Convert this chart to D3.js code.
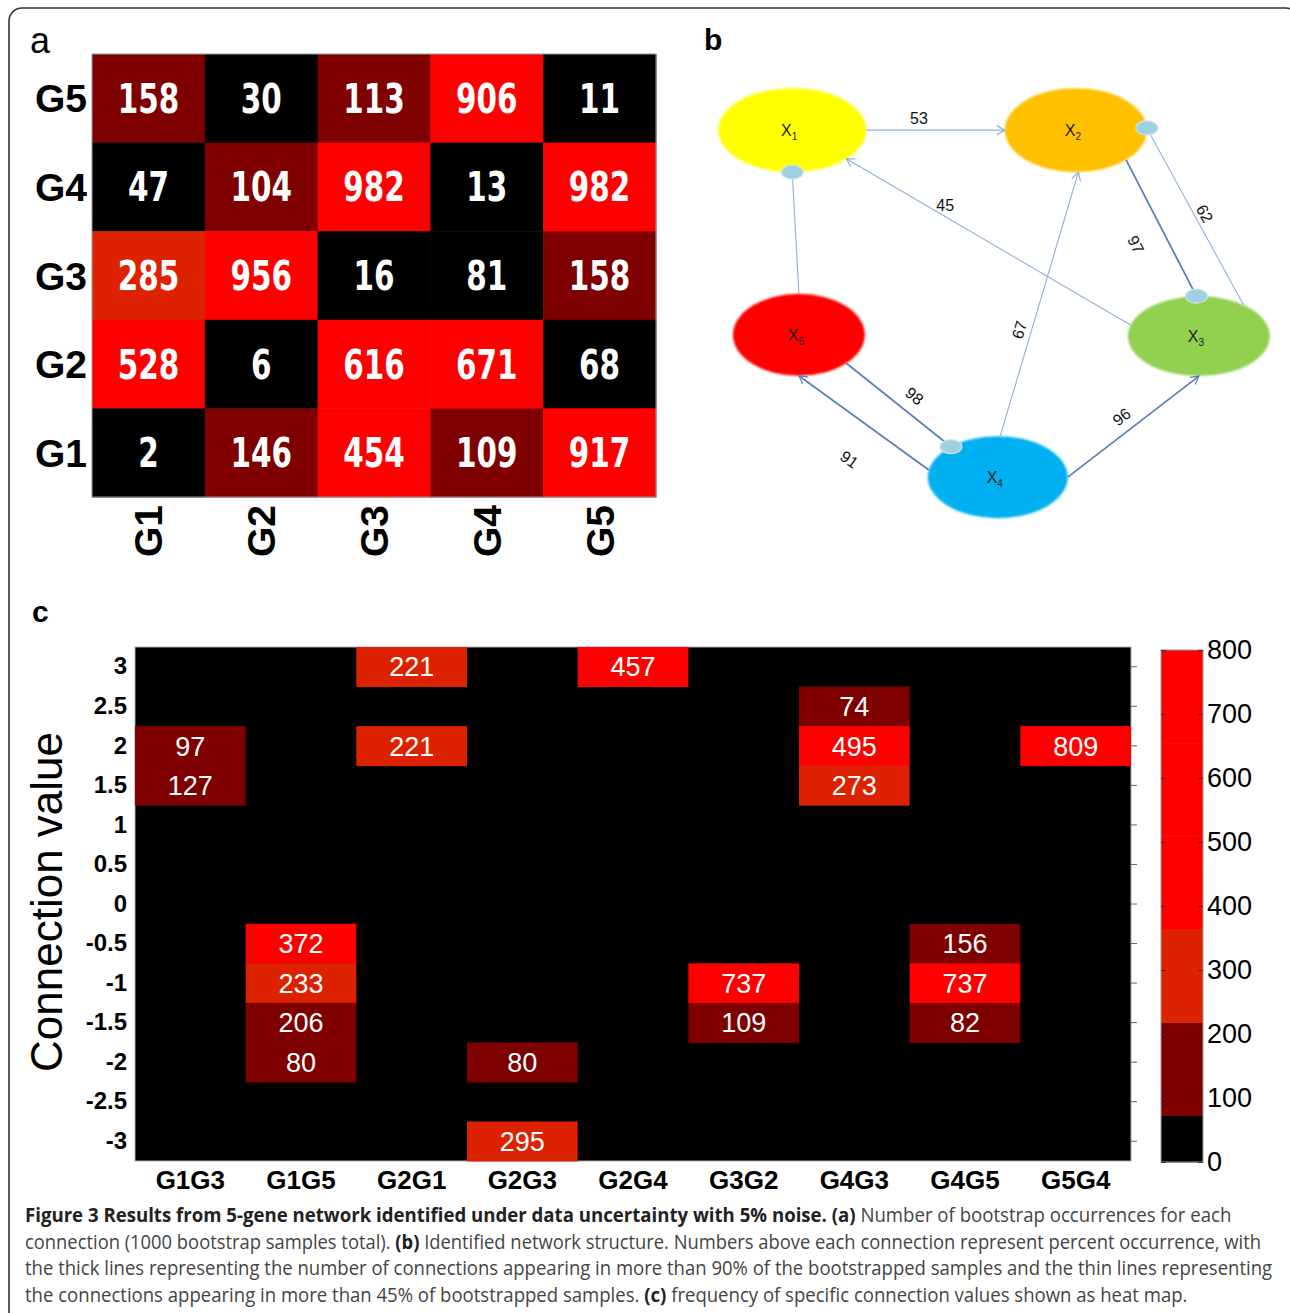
<!DOCTYPE html>
<html>
<head>
<meta charset="utf-8">
<script src="https://cdn.jsdelivr.net/npm/d3@7"></script>
<style>
  body { margin: 0; background: #fff; }
  text { font-family: "Liberation Sans", Arial, sans-serif; }
</style>
</head>
<body>
<svg id="fig" width="1290" height="1313"></svg>
<script>
// ---------- data ----------
// panel a: bootstrap occurrences, rows top->bottom, columns left->right
const genes = ["G1", "G2", "G3", "G4", "G5"];
const rowGenes = ["G5", "G4", "G3", "G2", "G1"];
const countsA = [
  [158, 30, 113, 906, 11],
  [47, 104, 982, 13, 982],
  [285, 956, 16, 81, 158],
  [528, 6, 616, 671, 68],
  [2, 146, 454, 109, 917]
];

// panel b: network
const nodeIds = ["X1", "X2", "X3", "X4", "X5"];
const nodeColors = ["#ffff00", "#ffc000", "#92d050", "#00b0f0", "#ff0000"];
// [from, to, percent, kind]
const edges = [
  ["X1", "X2", 53, "arrow"],
  ["X5", "X1", null, "inhibit"],
  ["X3", "X1", 45, "arrow"],
  ["X2", "X3", 97, "inhibit"],
  ["X3", "X2", 62, "inhibit"],
  ["X4", "X2", 67, "arrow"],
  ["X5", "X4", 98, "inhibit"],
  ["X4", "X5", 91, "arrow"],
  ["X4", "X3", 96, "arrow"]
];

// panel c: frequency of connection values
const pairs = ["G1G3", "G1G5", "G2G1", "G2G3", "G2G4", "G3G2", "G4G3", "G4G5", "G5G4"];
const connValues = [3, 2.5, 2, 1.5, 1, 0.5, 0, -0.5, -1, -1.5, -2, -2.5, -3];
const freqPair = ["G1G3", "G1G3", "G1G5", "G1G5", "G1G5", "G1G5", "G2G1", "G2G1", "G2G3", "G2G3",
                  "G2G4", "G3G2", "G3G2", "G4G3", "G4G3", "G4G3", "G4G5", "G4G5", "G4G5", "G5G4"];
const freqValue = [2, 1.5, -0.5, -1, -1.5, -2, 3, 2, -2, -3,
                   3, -1, -1.5, 2.5, 2, 1.5, -0.5, -1, -1.5, 2];
const freqCount = [97, 127, 372, 233, 206, 80, 221, 221, 80, 295,
                   457, 737, 109, 74, 495, 273, 156, 737, 82, 809];
const cbarTicks = [0, 100, 200, 300, 400, 500, 600, 700, 800];

// 11-step colormap (black, dark red, orange-red, red)
const cmap = ["#000000", "#7f0000", "#7f0000", "#dc2200", "#dc2200",
              "#ff0000", "#ff0000", "#ff0000", "#ff0000", "#ff0000", "#ff0000"];

const svg = d3.select("#fig");

// outer frame
svg.append("rect")
  .attr("x", 9).attr("y", 8).attr("width", 1290).attr("height", 1330)
  .attr("rx", 13).attr("fill", "none").attr("stroke", "#333").attr("stroke-width", 1.6);

// ---------- panel a ----------
const xa = d3.scaleBand().domain(genes).range([92, 656]);
const ya = d3.scaleBand().domain(rowGenes).range([54, 497]);
const colorA = d3.scaleQuantize().domain([0, d3.max(countsA.flat())]).range(cmap);

const cellsA = countsA.flatMap((row, i) => row.map((v, j) => ({ r: rowGenes[i], c: genes[j], v })));
const ga = svg.append("g");
ga.selectAll("rect").data(cellsA).join("rect")
  .attr("x", d => xa(d.c)).attr("y", d => ya(d.r))
  .attr("width", xa.bandwidth() + 0.5).attr("height", ya.bandwidth() + 0.5)
  .attr("fill", d => colorA(d.v));
ga.append("rect").attr("x", 92).attr("y", 54).attr("width", 564).attr("height", 443)
  .attr("fill", "none").attr("stroke", "#999").attr("stroke-width", 1);
ga.selectAll("text.val").data(cellsA).join("text").attr("class", "val")
  .attr("x", d => xa(d.c) + xa.bandwidth() / 2)
  .attr("y", d => ya(d.r) + ya.bandwidth() / 2)
  .attr("dy", "0.36em").attr("text-anchor", "middle")
  .style("font-family", "'DejaVu Sans Condensed', 'DejaVu Sans', sans-serif")
  .attr("font-weight", "bold").attr("font-size", 40).attr("fill", "#fff")
  .attr("textLength", d => String(d.v).length * 20.5).attr("lengthAdjust", "spacingAndGlyphs")
  .text(d => d.v);
ga.selectAll("text.row").data(rowGenes).join("text").attr("class", "row")
  .attr("x", 87).attr("y", d => ya(d) + ya.bandwidth() / 2).attr("dy", "0.36em")
  .attr("text-anchor", "end").attr("font-weight", "bold").attr("font-size", 39)
  .attr("fill", "#000").text(d => d);
ga.selectAll("text.col").data(genes).join("text").attr("class", "col")
  .attr("transform", d => `translate(${xa(d) + xa.bandwidth() / 2},505) rotate(-90)`)
  .attr("dy", "0.36em").attr("text-anchor", "end").attr("font-weight", "bold")
  .attr("font-size", 39).attr("fill", "#000").text(d => d);
svg.append("text").attr("x", 30).attr("y", 53).attr("font-size", 36).text("a");

// ---------- panel b ----------
svg.append("text").attr("x", 704).attr("y", 50).attr("font-size", 30)
  .attr("font-weight", "bold").text("b");

const bx = d3.scaleLinear().domain([0, 100]).range([718, 1272]);
const by = d3.scaleLinear().domain([0, 100]).range([88, 518]);
// layout units: [u, v, rx, ry]
const nodeLayout = {
  X1: [13.4, 9.8, 74, 42], X2: [64.6, 9.8, 71, 42], X3: [86.8, 57.7, 71, 40],
  X4: [50.5, 90.5, 70, 41], X5: [14.6, 57.4, 66, 41]
};
// attachment angles on the ellipses (degrees) and label placement
const edgeLayout = [
  { a0: 0, a1: 180, t: 0.38, off: 12, rot: false },
  { a0: -90, a1: 90 },
  { a0: 196, a1: 43, t: 0.67, off: -10, rot: false },
  { a0: 45, a1: -92, t: 0.52, off: -30, rot: true },
  { a0: -51, a1: -3, t: 0.49, off: -10, rot: true },
  { a0: -88, a1: 88, t: 0.39, off: 12, rot: true },
  { a0: 44, a1: -132, t: 0.55, off: 17, rot: true },
  { a0: 190, a1: 90, t: 0.44, off: 38, rot: true },
  { a0: 0, a1: 90, t: 0.48, off: 15, rot: true }
];
function onEllipse(id, deg) {
  const [u, v, rx, ry] = nodeLayout[id];
  const a = deg * Math.PI / 180;
  return [bx(u) + rx * Math.cos(a), by(v) + ry * Math.sin(a)];
}

const defs = svg.append("defs");
["thin", "thick"].forEach(k => {
  defs.append("marker").attr("id", "arr-" + k)
    .attr("viewBox", "-10 -6 12 12").attr("refX", 0).attr("refY", 0)
    .attr("markerWidth", 12).attr("markerHeight", 12).attr("markerUnits", "userSpaceOnUse")
    .attr("orient", "auto")
    .append("path").attr("d", "M-8,-4.5L0,0L-8,4.5")
    .attr("fill", "none").attr("stroke", k === "thin" ? "#8fb0dd" : "#5a80bf")
    .attr("stroke-width", 1.2);
});
defs.append("filter").attr("id", "soft").attr("x", "-10%").attr("y", "-10%")
  .attr("width", "120%").attr("height", "120%")
  .append("feGaussianBlur").attr("stdDeviation", 0.9);

const gb = svg.append("g");
const edgeData = edges.map((e, i) => {
  const L = edgeLayout[i];
  const p0 = onEllipse(e[0], L.a0), p1 = onEllipse(e[1], L.a1);
  return { from: e[0], to: e[1], pct: e[2], kind: e[3], thick: e[2] > 90, p0, p1, L };
});

// nodes
gb.selectAll("ellipse.node").data(nodeIds).join("ellipse").attr("class", "node")
  .attr("cx", d => bx(nodeLayout[d][0])).attr("cy", d => by(nodeLayout[d][1]))
  .attr("rx", d => nodeLayout[d][2]).attr("ry", d => nodeLayout[d][3])
  .attr("fill", (d, i) => nodeColors[i]).attr("filter", "url(#soft)");

// edges
gb.selectAll("line.edge").data(edgeData).join("line").attr("class", "edge")
  .attr("x1", d => d.p0[0]).attr("y1", d => d.p0[1])
  .attr("x2", d => d.p1[0]).attr("y2", d => d.p1[1])
  .attr("stroke", d => d.thick ? "#5a80bf" : "#8fb0dd")
  .attr("stroke-width", d => d.thick ? 1.8 : 1.1)
  .attr("marker-end", d => d.kind === "arrow" ? `url(#arr-${d.thick ? "thick" : "thin"})` : null);

// inhibition dots
gb.selectAll("ellipse.dot").data(edgeData.filter(d => d.kind === "inhibit")).join("ellipse")
  .attr("class", "dot")
  .attr("cx", d => d.p1[0]).attr("cy", d => d.p1[1])
  .attr("rx", 11).attr("ry", 7)
  .attr("fill", "#9fd0e2").attr("stroke", "#c9e6f0").attr("stroke-width", 1.2);

// node labels
const nl = gb.selectAll("text.nl").data(nodeIds).join("text").attr("class", "nl")
  .attr("x", d => bx(nodeLayout[d][0]) - 3).attr("y", d => by(nodeLayout[d][1]))
  .attr("dy", "0.36em").attr("text-anchor", "middle").attr("font-size", 16).attr("fill", "#222");
nl.append("tspan").text("X");
nl.append("tspan").attr("font-size", 10).attr("dy", 4).text(d => d.slice(1));

// edge labels
gb.selectAll("text.el").data(edgeData.filter(d => d.pct != null)).join("text").attr("class", "el")
  .attr("transform", d => {
    const dx = d.p1[0] - d.p0[0], dy = d.p1[1] - d.p0[1];
    const len = Math.hypot(dx, dy);
    const nx = dy / len, ny = -dx / len;
    const x = d.p0[0] + dx * d.L.t + nx * d.L.off;
    const y = d.p0[1] + dy * d.L.t + ny * d.L.off;
    let ang = Math.atan2(dy, dx) * 180 / Math.PI;
    if (ang > 90) ang -= 180;
    if (ang <= -90) ang += 180;
    return `translate(${x},${y}) rotate(${d.L.rot ? ang : 0})`;
  })
  .attr("dy", "0.36em").attr("text-anchor", "middle").attr("font-size", 16).attr("fill", "#111")
  .text(d => d.pct);

// ---------- panel c ----------
svg.append("text").attr("x", 32).attr("y", 622).attr("font-size", 30)
  .attr("font-weight", "bold").text("c");

const xc = d3.scaleBand().domain(pairs).range([135, 1131]);
const yc = d3.scaleBand().domain(connValues).range([647, 1161]);
const colorC = d3.scaleQuantize().domain([0, 800]).range(cmap);

const gc = svg.append("g");
gc.append("rect").attr("x", 135).attr("y", 647).attr("width", 996).attr("height", 514)
  .attr("fill", "#000").attr("stroke", "#aaa").attr("stroke-width", 1);
const cellsC = freqCount.map((v, i) => ({ p: freqPair[i], c: freqValue[i], v }));
gc.selectAll("rect.cell").data(cellsC).join("rect").attr("class", "cell")
  .attr("x", d => xc(d.p)).attr("y", d => yc(d.c))
  .attr("width", xc.bandwidth()).attr("height", yc.bandwidth() + 0.5)
  .attr("fill", d => colorC(d.v));
gc.selectAll("text.cv").data(cellsC).join("text").attr("class", "cv")
  .attr("x", d => xc(d.p) + xc.bandwidth() / 2)
  .attr("y", d => yc(d.c) + yc.bandwidth() / 2)
  .attr("dy", "0.36em").attr("text-anchor", "middle")
  .attr("font-size", 27).attr("fill", "#fff").text(d => d.v);

// y axis
const yAxis = gc.append("g").attr("transform", "translate(135,0)")
  .call(d3.axisLeft(yc).tickSize(0).tickPadding(8));
yAxis.select(".domain").remove();
yAxis.selectAll("text").attr("font-size", 24).attr("font-weight", "bold")
  .attr("fill", "#000").style("font-family", "'Liberation Sans', Arial, sans-serif");
// mirrored ticks on the right
const yAxisR = gc.append("g").attr("transform", "translate(1131,0)")
  .call(d3.axisLeft(yc).tickSize(6).tickFormat(""));
yAxisR.select(".domain").remove();
yAxisR.selectAll("line").attr("stroke", "#666").attr("transform", "translate(6,0)");

// x axis
const xAxis = gc.append("g").attr("transform", "translate(0,1161)")
  .call(d3.axisBottom(xc).tickSize(0).tickPadding(10));
xAxis.select(".domain").remove();
xAxis.selectAll("text").attr("font-size", 26).attr("font-weight", "bold")
  .attr("fill", "#000").style("font-family", "'Liberation Sans', Arial, sans-serif");

svg.append("text")
  .attr("transform", "translate(62,902) rotate(-90)")
  .attr("text-anchor", "middle").attr("font-size", 44).attr("fill", "#000")
  .text("Connection value");

// colorbar
const cb = d3.scaleLinear().domain([0, 800]).range([1162, 650]);
const steps = d3.range(cmap.length).map(i => [i * 800 / cmap.length, (i + 1) * 800 / cmap.length]);
const gcb = svg.append("g");
gcb.selectAll("rect").data(steps).join("rect")
  .attr("x", 1161).attr("width", 42)
  .attr("y", d => cb(d[1])).attr("height", d => cb(d[0]) - cb(d[1]) + 0.5)
  .attr("fill", (d, i) => cmap[i]);
gcb.append("rect").attr("x", 1161).attr("y", 650).attr("width", 42).attr("height", 512)
  .attr("fill", "none").attr("stroke", "#999").attr("stroke-width", 1);
const cAxis = gcb.append("g").attr("transform", "translate(1203,0)")
  .call(d3.axisRight(cb).tickValues(cbarTicks).tickSize(-5).tickPadding(4).tickFormat(d3.format("d")));
cAxis.select(".domain").remove();
cAxis.selectAll("line").attr("stroke", "#333");
cAxis.selectAll("text").attr("font-size", 27).attr("fill", "#000")
  .style("font-family", "'Liberation Sans', Arial, sans-serif");
gcb.append("g").attr("transform", "translate(1161,0)")
  .call(d3.axisLeft(cb).tickValues(cbarTicks).tickSize(-5).tickFormat(""))
  .call(g => g.select(".domain").remove())
  .selectAll("line").attr("stroke", "#333");

// ---------- caption ----------
const capLines = [
  [["b", "Figure 3 Results from 5-gene network identified under data uncertainty with 5% noise. (a)"],
   ["r", " Number of bootstrap occurrences for each"]],
  [["r", "connection (1000 bootstrap samples total). "], ["b", "(b)"],
   ["r", " Identified network structure. Numbers above each connection represent percent occurrence, with"]],
  [["r", "the thick lines representing the number of connections appearing in more than 90% of the bootstrapped samples and the thin lines representing"]],
  [["r", "the connections appearing in more than 45% of bootstrapped samples. "], ["b", "(c)"],
   ["r", " frequency of specific connection values shown as heat map."]]
];
const capEnds = [1232, 1262, 1273, 1188];
const cap = svg.append("g");
capLines.forEach((parts, i) => {
  const g = cap.append("g");
  const t = g.append("text").attr("x", 0).attr("y", 0)
    .attr("font-size", 20).style("font-family", "'Open Sans', 'Noto Sans', sans-serif")
    .attr("xml:space", "preserve");
  parts.forEach(([w, s]) => {
    t.append("tspan").attr("font-weight", w === "b" ? "bold" : "normal")
      .attr("fill", w === "b" ? "#222" : "#444").text(s);
  });
  const natural = t.node().getComputedTextLength();
  const sx = (capEnds[i] - 25) / natural;
  g.attr("transform", `translate(25,${1222 + i * 26.7}) scale(${sx},1)`);
});
</script>
</body>
</html>
